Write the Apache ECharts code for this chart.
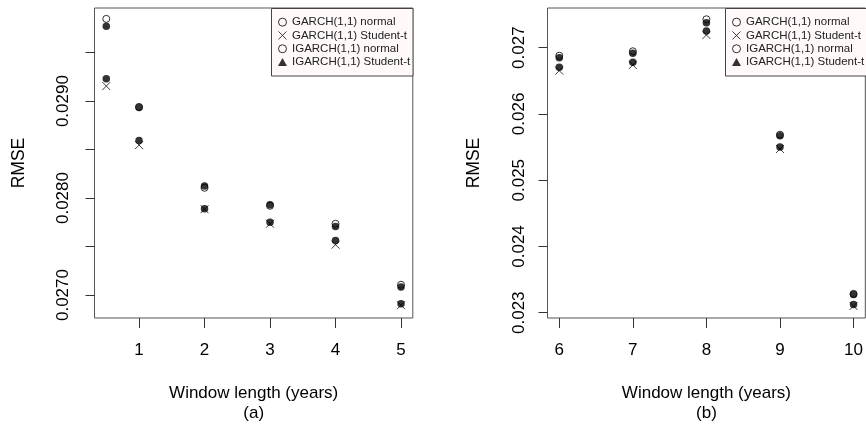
<!DOCTYPE html>
<html>
<head>
<meta charset="utf-8">
<script src="https://cdn.jsdelivr.net/npm/echarts@6/dist/echarts.min.js"></script>
<style>
  html, body { margin: 0; padding: 0; background: #fff; }
  #chart { width: 866px; height: 430px; }
</style>
</head>
<body>
<div id="chart"></div>
<script>
// window lengths (years)
var windowsA = [0.5, 1, 2, 3, 4, 5]
var windowsB = [6, 7, 8, 9, 10]

// panel (a) RMSE
var garchNormA = [0.029848, 0.028940, 0.028106, 0.027920, 0.027735, 0.027106]
var garchStudA = [0.029155, 0.028546, 0.027885, 0.027735, 0.027519, 0.026895]
var igarchNormA = [0.029773, 0.028935, 0.028125, 0.027931, 0.027707, 0.027082]
var igarchStudA = [0.029230, 0.028594, 0.027890, 0.027750, 0.027563, 0.026910]

// panel (b) RMSE
var garchNormB = [0.026879, 0.026946, 0.027429, 0.025687, 0.023285]
var garchStudB = [0.026653, 0.026739, 0.027192, 0.025471, 0.023101]
var igarchNormB = [0.026849, 0.026915, 0.027377, 0.025672, 0.023275]
var igarchStudB = [0.026704, 0.026780, 0.027252, 0.025501, 0.023124]

var ticksXA = [1, 2, 3, 4, 5]
var ticksXB = [6, 7, 8, 9, 10]
var ticksYA = [0.0270, 0.0275, 0.0280, 0.0285, 0.0290, 0.0295]
var labelsYA = [0.0270, 0.0280, 0.0290]
var ticksYB = [0.023, 0.024, 0.025, 0.026, 0.027]

var names = ['GARCH(1,1) normal', 'GARCH(1,1) Student-t', 'IGARCH(1,1) normal', 'IGARCH(1,1) Student-t']

var FONT = 'Liberation Sans, Arial, sans-serif'
var crossPath = 'path://M0,0L10,10M10,0L0,10'

function pairs(xs, ys) {
  var out = []
  for (var i = 0; i < xs.length; i++) out.push([xs[i], ys[i]])
  return out
}

var openStyle = { color: 'rgba(0,0,0,0)', borderColor: '#000', borderWidth: 1 }
var crossStyle = { color: 'rgba(0,0,0,0)', borderColor: '#111', borderWidth: 1 }
var fillStyle = { color: '#000', borderWidth: 0 }

function makeSeries(idx, norm, stud, inorm, istud, xs) {
  return [
    { name: names[0], type: 'scatter', xAxisIndex: idx, yAxisIndex: idx, symbol: 'circle', symbolSize: 7,
      itemStyle: openStyle, data: pairs(xs, norm), z: 2 },
    { name: names[1], type: 'scatter', xAxisIndex: idx, yAxisIndex: idx, symbol: crossPath, symbolSize: 8,
      itemStyle: crossStyle, data: pairs(xs, stud), z: 2 },
    { name: names[2], type: 'scatter', xAxisIndex: idx, yAxisIndex: idx, symbol: 'circle', symbolSize: 7.5,
      itemStyle: fillStyle, data: pairs(xs, inorm), z: 3 },
    { name: names[3], type: 'scatter', xAxisIndex: idx, yAxisIndex: idx, symbol: 'circle', symbolSize: 7.5,
      itemStyle: fillStyle, data: pairs(xs, istud), z: 3 }
  ]
}

var legendData = [
  { name: names[0], icon: 'circle', itemStyle: openStyle },
  { name: names[1], icon: crossPath, itemStyle: crossStyle },
  { name: names[2], icon: 'circle', itemStyle: openStyle },
  { name: names[3], icon: 'triangle', itemStyle: fillStyle }
]

function makeLegend(left) {
  return {
    orient: 'vertical', left: left, top: 15.5, padding: 0, itemGap: 0,
    itemWidth: 9, itemHeight: 8, selectedMode: false, z: 10,
    textStyle: { fontFamily: FONT, fontSize: 11.5, color: '#222', lineHeight: 13.3 },
    data: legendData
  }
}

function xAxisFor(idx, min, max, ticks, sub) {
  return {
    type: 'value', gridIndex: idx, min: min, max: max,
    name: 'Window length (years)\n' + sub, nameLocation: 'middle', nameGap: 65,
    nameTextStyle: { fontFamily: FONT, fontSize: 17, color: '#000', lineHeight: 20 },
    axisLine: { show: false },
    axisTick: { show: true, inside: false, length: 10, customValues: ticks, lineStyle: { color: '#333' } },
    axisLabel: { customValues: ticks, margin: 24, fontFamily: FONT, fontSize: 17, color: '#000' },
    splitLine: { show: false }
  }
}

function yAxisFor(idx, min, max, ticks, labels, dec, margin, gap) {
  return {
    type: 'value', gridIndex: idx, min: min, max: max,
    name: 'RMSE', nameLocation: 'middle', nameGap: gap,
    nameTextStyle: { fontFamily: FONT, fontSize: 17.5, color: '#000' },
    axisLine: { show: false },
    axisTick: { show: true, inside: false, length: 9, customValues: ticks, lineStyle: { color: '#333' } },
    axisLabel: {
      customValues: labels, rotate: 90, margin: margin, fontFamily: FONT, fontSize: 17, color: '#000',
      formatter: function (v) { return v.toFixed(dec) }
    },
    splitLine: { show: false }
  }
}

var chart = echarts.init(document.getElementById('chart'), null, { renderer: 'canvas' })
chart.setOption({
  animation: false,
  backgroundColor: '#fff',
  grid: [
    { left: 94.5, top: 8, width: 318.3, height: 310, show: true, borderColor: '#555', borderWidth: 1, backgroundColor: 'transparent' },
    { left: 547.5, top: 8, width: 319.3, height: 310, show: true, borderColor: '#555', borderWidth: 1, backgroundColor: 'transparent' }
  ],
  xAxis: [
    xAxisFor(0, 0.32, 5.18, ticksXA, '(a)'),
    xAxisFor(1, 5.84, 10.16, ticksXB, '(b)')
  ],
  yAxis: [
    yAxisFor(0, 0.026763, 0.029960, ticksYA, labelsYA, 4, 23, 66),
    yAxisFor(1, 0.02292, 0.027599, ticksYB, ticksYB, 3, 20, 64.5)
  ],
  legend: [makeLegend(278), makeLegend(732)],
  graphic: [
    { type: 'rect', z: 5, shape: { x: 271.5, y: 8.5, width: 141.5, height: 67.5 },
      style: { fill: '#fff9f9', stroke: '#444', lineWidth: 1 } },
    { type: 'rect', z: 5, shape: { x: 725.5, y: 8.5, width: 150, height: 67.5 },
      style: { fill: '#fff9f9', stroke: '#444', lineWidth: 1 } }
  ],
  series: [].concat(
    makeSeries(0, garchNormA, garchStudA, igarchNormA, igarchStudA, windowsA),
    makeSeries(1, garchNormB, garchStudB, igarchNormB, igarchStudB, windowsB)
  )
})
</script>
</body>
</html>
